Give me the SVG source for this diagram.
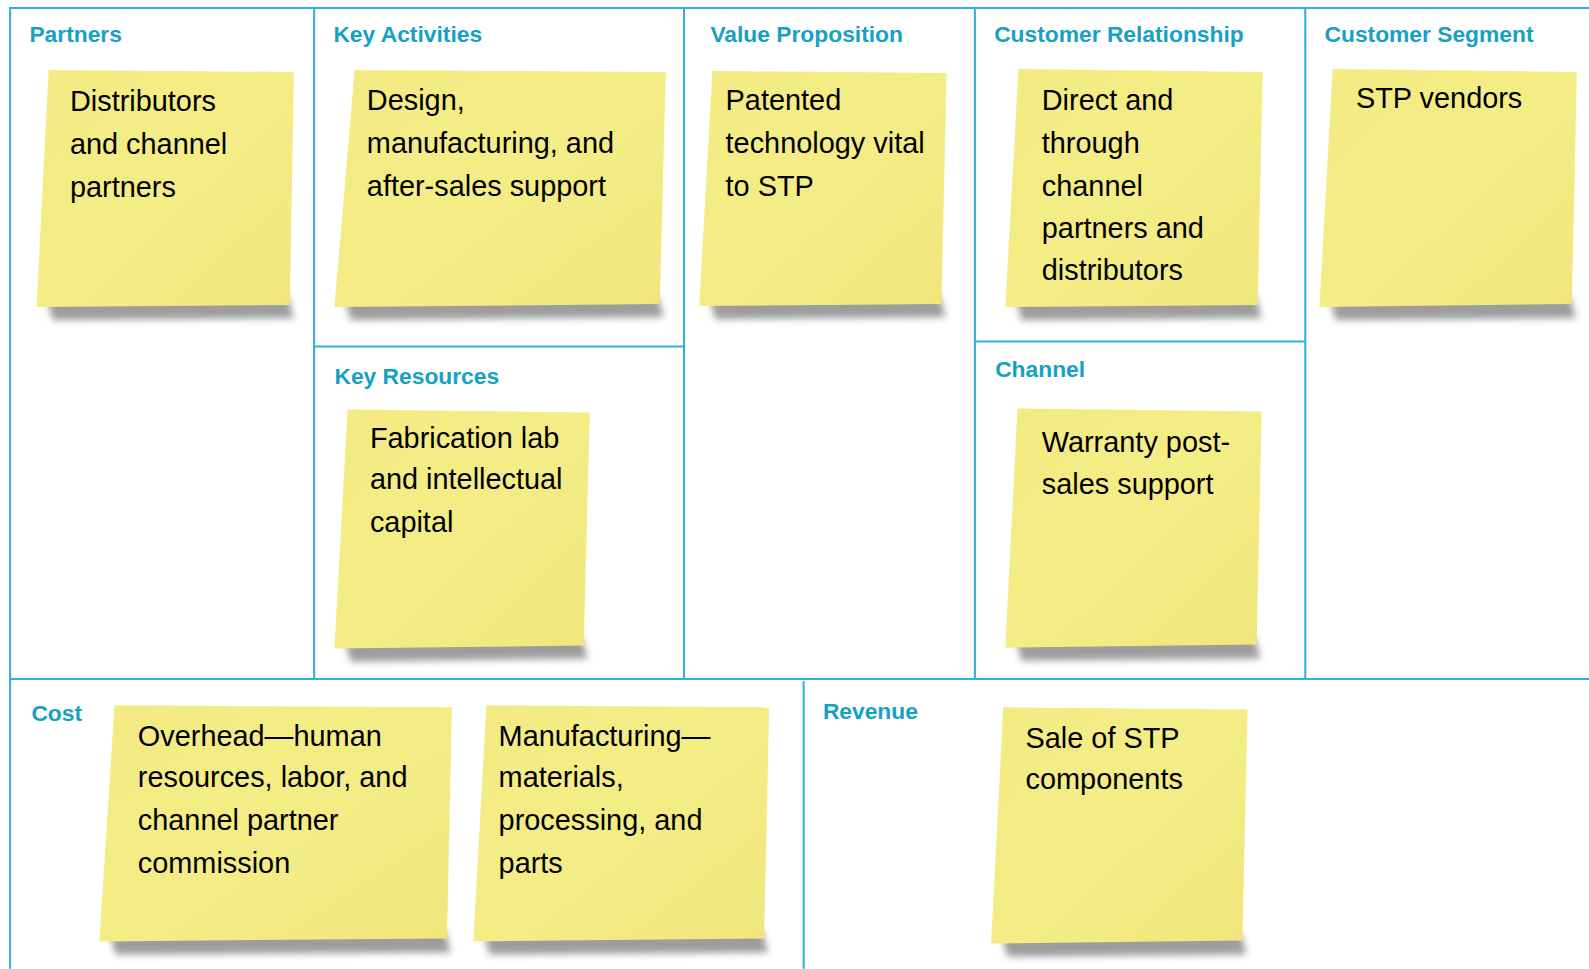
<svg xmlns="http://www.w3.org/2000/svg" width="1589" height="969" viewBox="0 0 1589 969">
<style>
.grid line{stroke:#2fb1d1;stroke-width:2}
.hd{font-family:"Liberation Sans",Arial,sans-serif;font-weight:bold;font-size:22.5px;fill:#16a1c4}
.tx{font-family:"Liberation Sans",Arial,sans-serif;font-size:28.5px;fill:#000}
.note{fill:url(#paper)}
.shadow{fill:#7d7d7d;opacity:0.75;filter:url(#blur)}
</style>
<defs>
<linearGradient id="paper" x1="0" y1="0" x2="1" y2="1">
<stop offset="0" stop-color="#f3ea83"/>
<stop offset="0.5" stop-color="#f4ed86"/>
<stop offset="1" stop-color="#f0e67c"/>
</linearGradient>
<filter id="blur" x="-20%" y="-50%" width="140%" height="200%">
<feGaussianBlur stdDeviation="3.5"/>
</filter>
</defs>
<rect width="1589" height="969" fill="#ffffff"/>
<g transform="scale(1.0134)">
<g id="grid" class="grid">
<line x1="10" y1="8" x2="1568" y2="8"/>
<line x1="10" y1="7" x2="10" y2="956"/>
<line x1="310" y1="8" x2="310" y2="670"/>
<line x1="675" y1="8" x2="675" y2="670"/>
<line x1="962" y1="8" x2="962" y2="670"/>
<line x1="1288" y1="8" x2="1288" y2="670"/>
<line x1="310" y1="342" x2="675" y2="342"/>
<line x1="962" y1="337" x2="1288" y2="337"/>
<line x1="10" y1="670" x2="1568" y2="670"/>
<line x1="793" y1="672" x2="793" y2="956"/>
</g>

<g id="hdr-partners"><text class="hd" x="29" y="41">Partners</text></g>
<g id="hdr-activities"><text class="hd" x="329" y="41">Key Activities</text></g>
<g id="hdr-value"><text class="hd" x="701" y="41">Value Proposition</text></g>
<g id="hdr-relationship"><text class="hd" x="981" y="41">Customer Relationship</text></g>
<g id="hdr-segment"><text class="hd" x="1307" y="41">Customer Segment</text></g>
<g id="hdr-resources"><text class="hd" x="330" y="379">Key Resources</text></g>
<g id="hdr-channel"><text class="hd" x="982" y="372">Channel</text></g>
<g id="hdr-cost"><text class="hd" x="31" y="711">Cost</text></g>
<g id="hdr-revenue"><text class="hd" x="812" y="709">Revenue</text></g>

<g id="note-partners">
<polygon class="shadow" points="46,294 284,292 290,314 52,316"/>
<polygon class="note" points="48,69 290,71 286,301 36,303"/>
<text class="tx" x="69" y="110">Distributors</text>
<text class="tx" x="69" y="152">and channel</text>
<text class="tx" x="69" y="194">partners</text>
</g>

<g id="note-activities">
<polygon class="shadow" points="340,294 649,292 655,313 346,316"/>
<polygon class="note" points="350,69 657,71 651,300 330,303"/>
<text class="tx" x="362" y="109">Design,</text>
<text class="tx" x="362" y="151">manufacturing, and</text>
<text class="tx" x="362" y="193">after-sales support</text>
</g>

<g id="note-value">
<polygon class="shadow" points="700,293 927,291 933,313 706,315"/>
<polygon class="note" points="703,70 934,72 929,300 690,302"/>
<text class="tx" x="716" y="109">Patented</text>
<text class="tx" x="716" y="151">technology vital</text>
<text class="tx" x="716" y="193">to STP</text>
</g>

<g id="note-relationship">
<polygon class="shadow" points="1002,294 1239,292 1245,314 1008,316"/>
<polygon class="note" points="1005,68 1246,71 1241,301 992,303"/>
<text class="tx" x="1028" y="109">Direct and</text>
<text class="tx" x="1028" y="151">through</text>
<text class="tx" x="1028" y="193">channel</text>
<text class="tx" x="1028" y="235">partners and</text>
<text class="tx" x="1028" y="276">distributors</text>
</g>

<g id="note-segment">
<polygon class="shadow" points="1312,294 1549,292 1555,314 1318,316"/>
<polygon class="note" points="1315,68 1556,71 1551,300 1302,303"/>
<text class="tx" x="1338" y="107">STP vendors</text>
</g>

<g id="note-resources">
<polygon class="shadow" points="340,631 574,629 580,650 346,653"/>
<polygon class="note" points="343,404 582,407 576,637 330,640"/>
<text class="tx" x="365" y="442">Fabrication lab</text>
<text class="tx" x="365" y="483">and intellectual</text>
<text class="tx" x="365" y="525">capital</text>
</g>

<g id="note-channel">
<polygon class="shadow" points="1002,630 1238,628 1244,650 1008,652"/>
<polygon class="note" points="1004,403 1245,406 1240,636 992,639"/>
<text class="tx" x="1028" y="446">Warranty post-</text>
<text class="tx" x="1028" y="487">sales support</text>
</g>

<g id="note-cost-overhead">
<polygon class="shadow" points="108,920 439,918 445,940 114,942"/>
<polygon class="note" points="113,696 446,698 441,926 98,929"/>
<text class="tx" x="136" y="736">Overhead—human</text>
<text class="tx" x="136" y="777">resources, labor, and</text>
<text class="tx" x="136" y="819">channel partner</text>
<text class="tx" x="136" y="861">commission</text>
</g>

<g id="note-cost-manufacturing">
<polygon class="shadow" points="477,920 752,918 758,940 483,942"/>
<polygon class="note" points="480,696 759,698 754,926 467,929"/>
<text class="tx" x="492" y="736">Manufacturing—</text>
<text class="tx" x="492" y="777">materials,</text>
<text class="tx" x="492" y="819">processing, and</text>
<text class="tx" x="492" y="861">parts</text>
</g>

<g id="note-revenue">
<polygon class="shadow" points="988,922 1224,920 1230,942 994,944"/>
<polygon class="note" points="990,698 1231,700 1226,928 978,931"/>
<text class="tx" x="1012" y="738">Sale of STP</text>
<text class="tx" x="1012" y="779">components</text>
</g>
</g>
</svg>
